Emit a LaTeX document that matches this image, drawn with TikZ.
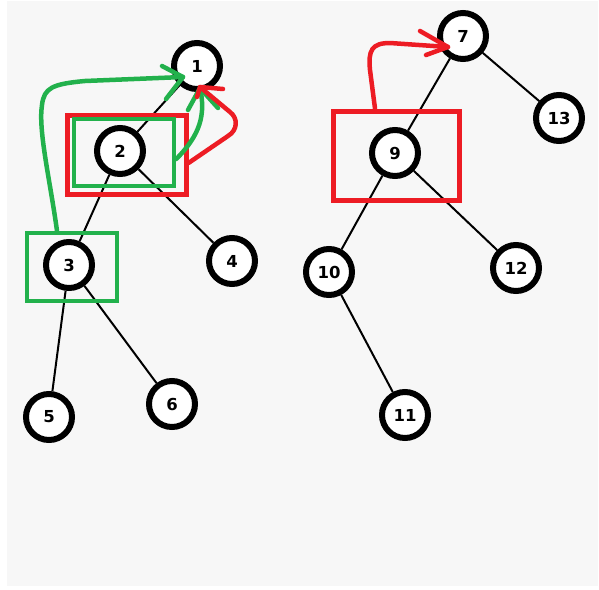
\documentclass[tikz,border=0pt]{standalone}
\usepackage{fontspec}
\setmainfont{DejaVu Sans}
\usetikzlibrary{calc}
\definecolor{bggray}{HTML}{F7F7F7}
\definecolor{pgreen}{HTML}{22B14C}
\definecolor{pred}{HTML}{ED1C24}
\tikzset{
  vert/.style={circle, draw=black, fill=white, line width=6pt, minimum size=46pt, inner sep=0pt,
    font=\bfseries\fontsize{16.5}{19}\selectfont},
  edge/.style={draw=black, line width=2pt},
  gbox/.style={draw=pgreen, line width=4.5pt, inner sep=0pt},
  rbox/.style={draw=pred, line width=5pt, inner sep=0pt},
  garrow/.style={draw=pgreen, line width=4.5pt, line cap=round, line join=round},
  rarrow/.style={draw=pred, line width=4.5pt, line cap=round, line join=round}
}
\begin{document}
\begin{tikzpicture}[x=1pt,y=-1pt]
\useasboundingbox (0,0) rectangle (599,589);
\fill[white] (0,0) rectangle (599,589);
\fill[bggray] (7,1) rectangle (598,586);

% vertices
\node[vert] (n1) at (197,66) {1};
\node[vert] (n2) at (120,151) {2};
\node[vert] (n3) at (69,265) {3};
\node[vert] (n4) at (232,261) {4};
\node[vert] (n5) at (49,417) {5};
\node[vert] (n6) at (172,404) {6};
\node[vert] (n7) at (463,36) {7};
\node[vert] (n9) at (395,153) {9};
\node[vert] (n10) at (329,272) {10};
\node[vert] (n11) at (405,415) {11};
\node[vert] (n12) at (516,268) {12};
\node[vert] (n13) at (559,118) {13};

% tree edges
\path[edge] (n1) -- (n2);
\path[edge] (n2) -- (n3);
\path[edge] (n2) -- (n4);
\path[edge] (n3) -- (n5);
\path[edge] (n3) -- (n6);
\path[edge] (n7) -- (n9);
\path[edge] (n7) -- (n13);
\path[edge] (n9) -- (n10);
\path[edge] (n9) -- (n12);
\path[edge] (n10) -- (n11);

% boxes
\node[rbox, minimum width=119pt, minimum height=79pt] (rb2) at (126.5,154.5) {};
\node[gbox, minimum width=100pt, minimum height=67pt] (gb2) at (124,152.5) {};
\node[gbox, minimum width=90pt, minimum height=68pt] (gb3) at (72,267) {};
\node[rbox, minimum width=126pt, minimum height=89pt] (rb9) at (396,155.5) {};

% arrow tips and barbs
\coordinate (gt1) at (183,77);
\coordinate (gt1a) at (162,66);
\coordinate (gt1b) at (166,99);
\coordinate (gt2) at (200,88);
\coordinate (gt2a) at (188,110);
\coordinate (gt2b) at (218,108);
\coordinate (rt2) at (200,87);
\coordinate (rt2a) at (223,89);
\coordinate (rt2b) at (197,97);
\coordinate (rt9) at (448,47);
\coordinate (rt9a) at (420,31);
\coordinate (rt9b) at (426,55);

% green arrow from box 3 to node 1
\path[garrow] ([xshift=-15pt]gb3.north) .. controls (50,180) and (38,130) .. (42,105)
  .. controls (44,88) and (52,84) .. (85,81) -- (gt1);
\path[garrow] (gt1a) -- (gt1) -- (gt1b);
% green arrow from box 2 to node 1
\path[garrow] ([yshift=-6.5pt]gb2.east) .. controls (200,135) and (206,115) .. (gt2);
\path[garrow] (gt2a) -- (gt2) -- (gt2b);
% red arrow from box 2 to node 1
\path[rarrow] ([yshift=-8.5pt]rb2.east) -- (228,136) .. controls (238,130) and (238,118) .. (230,112) -- (rt2);
\path[rarrow] (rt2a) -- (rt2) -- (rt2b);
% red arrow from box 9 to node 7
\path[rarrow] ([xshift=-21pt]rb9.north) -- (370,70) .. controls (368,50) and (372,43) .. (390,43) -- (rt9);
\path[rarrow] (rt9a) -- (rt9) -- (rt9b);
\end{tikzpicture}
\end{document}
